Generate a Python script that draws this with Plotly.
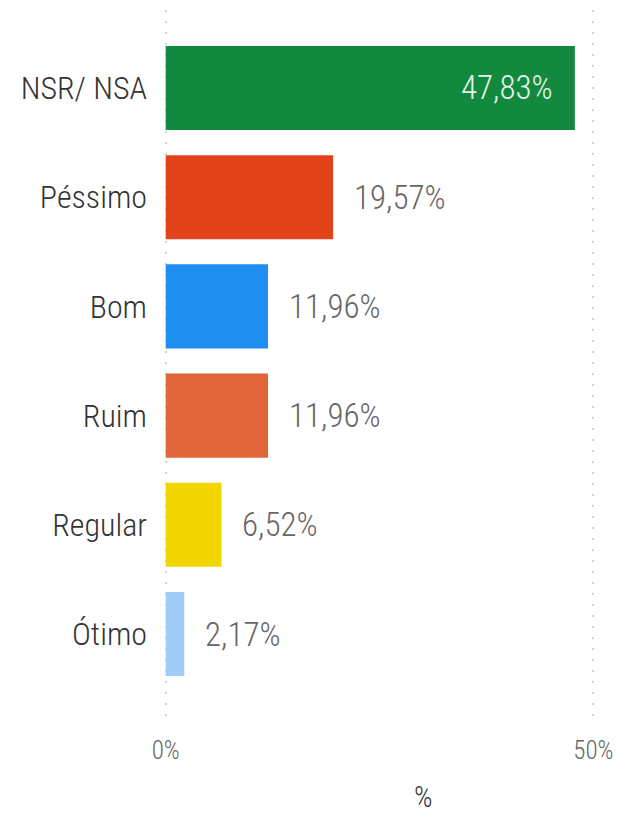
import plotly.graph_objects as go

# Avaliação (%) por categoria
categories = ["NSR/ NSA", "Péssimo", "Bom", "Ruim", "Regular", "Ótimo"]
values = [47.83, 19.57, 11.96, 11.96, 6.52, 2.17]
colors = ["#12893E", "#E3431B", "#1F8EF1", "#E0663A", "#F1D600", "#A0CDF8"]
tick_vals = [0, 50]
tick_text = ["0%", "50%"]

FONT = ("Noto Sans ExtraCondensed, Noto Sans Condensed, Roboto Condensed, "
        "Open Sans Condensed, DejaVu Sans Condensed, sans-serif")


def fmt(v):
    return f"{v:.2f}".replace(".", ",") + "%"


fig = go.Figure(
    go.Bar(
        x=values,
        y=categories,
        orientation="h",
        marker=dict(color=colors, line=dict(width=0)),
        hoverinfo="skip",
    )
)

# value labels: inside the largest bar, outside the others
annotations = []
for i, (cat, v) in enumerate(zip(categories, values)):
    inside = i == 0
    annotations.append(
        dict(
            x=v,
            y=cat,
            xref="x",
            yref="y",
            text=fmt(v),
            showarrow=False,
            xanchor="right" if inside else "left",
            xshift=-20 if inside else 19,
            font=dict(family=FONT, size=33, weight=300,
                      color="#E6F6EA" if inside else "#666666"),
        )
    )

# x axis title
annotations.append(
    dict(
        x=0.6,
        y=-0.101,
        xref="paper",
        yref="paper",
        yanchor="middle",
        text="%",
        showarrow=False,
        font=dict(family=FONT, size=29, weight=300, color="#333333"),
    )
)

fig.update_layout(
    width=621,
    height=814,
    margin=dict(l=164, r=25, t=10, b=89),
    paper_bgcolor="white",
    plot_bgcolor="white",
    bargap=0.23,
    showlegend=False,
    annotations=annotations,
    xaxis=dict(
        range=[-0.2, 50.3],
        tickvals=tick_vals,
        ticktext=tick_text,
        showgrid=True,
        gridcolor="#D4D4D4",
        griddash="2px,9px",
        gridwidth=1.5,
        zeroline=False,
        showline=False,
        ticks="",
        ticklabelstandoff=8,
        tickfont=dict(family=FONT, size=25, weight=300, color="#666666"),
        automargin=False,
        fixedrange=True,
    ),
    yaxis=dict(
        categoryorder="array",
        categoryarray=categories,
        range=[5.833, -0.714],
        showgrid=False,
        zeroline=False,
        showline=False,
        ticks="",
        ticklabelstandoff=16,
        tickfont=dict(family=FONT, size=32, weight=300, color="#333333"),
        automargin=False,
        fixedrange=True,
    ),
)

fig.write_html("out.html")
